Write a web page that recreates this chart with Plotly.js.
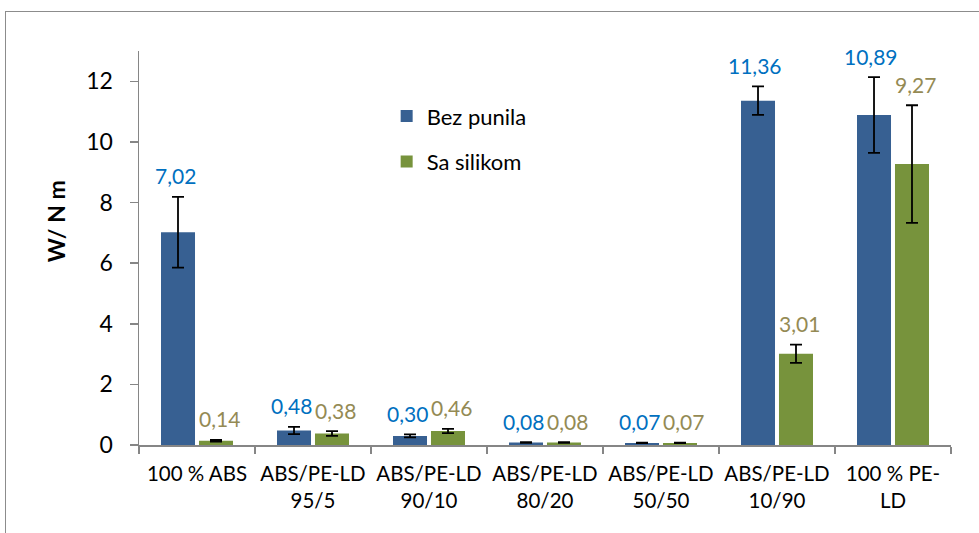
<!DOCTYPE html>
<html>
<head>
<meta charset="utf-8">
<script src="https://cdn.plot.ly/plotly-3.0.1.min.js"></script>
<style>
  body { margin: 0; padding: 0; background: #fff; }
  #wrap { position: relative; width: 979px; height: 533px; overflow: hidden; }
  #chart { width: 979px; height: 533px; }
  #frame { position: absolute; left: 5px; top: 11px; width: 1100px; height: 700px;
           border: 1.5px solid #8c8c8c; pointer-events: none; }
</style>
</head>
<body>
<div id="wrap">
  <div id="chart"></div>
  <div id="frame"></div>
</div>
<script>
const categories = [
  "100 % ABS",
  "ABS/PE-LD<br>95/5",
  "ABS/PE-LD<br>90/10",
  "ABS/PE-LD<br>80/20",
  "ABS/PE-LD<br>50/50",
  "ABS/PE-LD<br>10/90",
  "100 % PE-<br>LD"
];
const seriesNames = ["Bez punila", "Sa silikom"];
const bezPunila = [7.02, 0.48, 0.30, 0.08, 0.07, 11.36, 10.89];
const saSilikom = [0.14, 0.38, 0.46, 0.08, 0.07, 3.01, 9.27];
const bezPunilaErr = [1.17, 0.12, 0.05, 0.01, 0.01, 0.47, 1.25];
const saSilikomErr = [0.03, 0.08, 0.07, 0.01, 0.01, 0.30, 1.94];
const yTicks = [0, 2, 4, 6, 8, 10, 12];

const FONT = "Lato, 'Open Sans', sans-serif";
const blueBar = "#376092", greenBar = "#77933C";
const blueLbl = "#0070C0", greenLbl = "#948A54";
const fmt = v => v.toFixed(2).replace(".", ",");

const errStyle = { type: "data", visible: true, color: "#000", thickness: 1.8, width: 6 };

const traces = [
  { type: "bar", name: seriesNames[0], x: categories, y: bezPunila,
    marker: { color: blueBar }, legendgroup: "a",
    error_y: Object.assign({ array: bezPunilaErr }, errStyle), hoverinfo: "none" },
  { type: "bar", name: seriesNames[1], x: categories, y: saSilikom,
    marker: { color: greenBar }, legendgroup: "b",
    error_y: Object.assign({ array: saSilikomErr }, errStyle), hoverinfo: "none" }
];

const annotations = [];
categories.forEach((c, i) => {
  annotations.push({ x: c, y: bezPunila[i] + bezPunilaErr[i], xref: "x", yref: "y",
    text: fmt(bezPunila[i]), showarrow: false, xshift: -22, yshift: 21, yanchor: "middle",
    font: { family: FONT, size: 21, color: blueLbl } });
  annotations.push({ x: c, y: saSilikom[i] + saSilikomErr[i], xref: "x", yref: "y",
    text: fmt(saSilikom[i]), showarrow: false, xshift: 22, yshift: 21, yanchor: "middle",
    font: { family: FONT, size: 21, color: greenLbl } });
});
annotations.push({ xref: "paper", yref: "paper", x: -0.103, y: 0.569, xanchor: "center", yanchor: "middle",
  text: "<b>W/ N m</b>", textangle: -90, showarrow: false,
  font: { family: FONT, size: 23, color: "#000" } });

const layout = {
  width: 979, height: 533,
  margin: { l: 139, r: 28, t: 51, b: 88 },
  paper_bgcolor: "#fff", plot_bgcolor: "#fff",
  showlegend: true,
  barmode: "group", bargap: 0.345, bargroupgap: 0.105,
  font: { family: FONT, color: "#000" },
  legend: { x: 0.305, y: 0.888, xanchor: "left", yanchor: "top", bgcolor: "rgba(0,0,0,0)",
    font: { family: FONT, size: 22, color: "#000" }, tracegroupgap: 14 },
  xaxis: { type: "category", showgrid: false, zeroline: false,
    showline: true, linecolor: "#868686", linewidth: 1.5,
    ticks: "outside", tickson: "boundaries", ticklen: 7, tickcolor: "#868686", tickwidth: 1.5,
    tickangle: 0, automargin: false, ticklabelstandoff: 10,
    tickfont: { family: FONT, size: 20.5, color: "#000" } },
  yaxis: { range: [0, 13], tickvals: yTicks, ticktext: yTicks.map(String),
    showgrid: false, zeroline: false, showline: true, linecolor: "#868686", linewidth: 1.5,
    ticks: "outside", ticklen: 8, tickcolor: "#868686", tickwidth: 1.5,
    automargin: false, ticklabelstandoff: 12,
    tickfont: { family: FONT, size: 23, color: "#000" } },
  annotations: annotations
};

Plotly.newPlot("chart", traces, layout, { displayModeBar: false, staticPlot: true });
</script>
</body>
</html>
